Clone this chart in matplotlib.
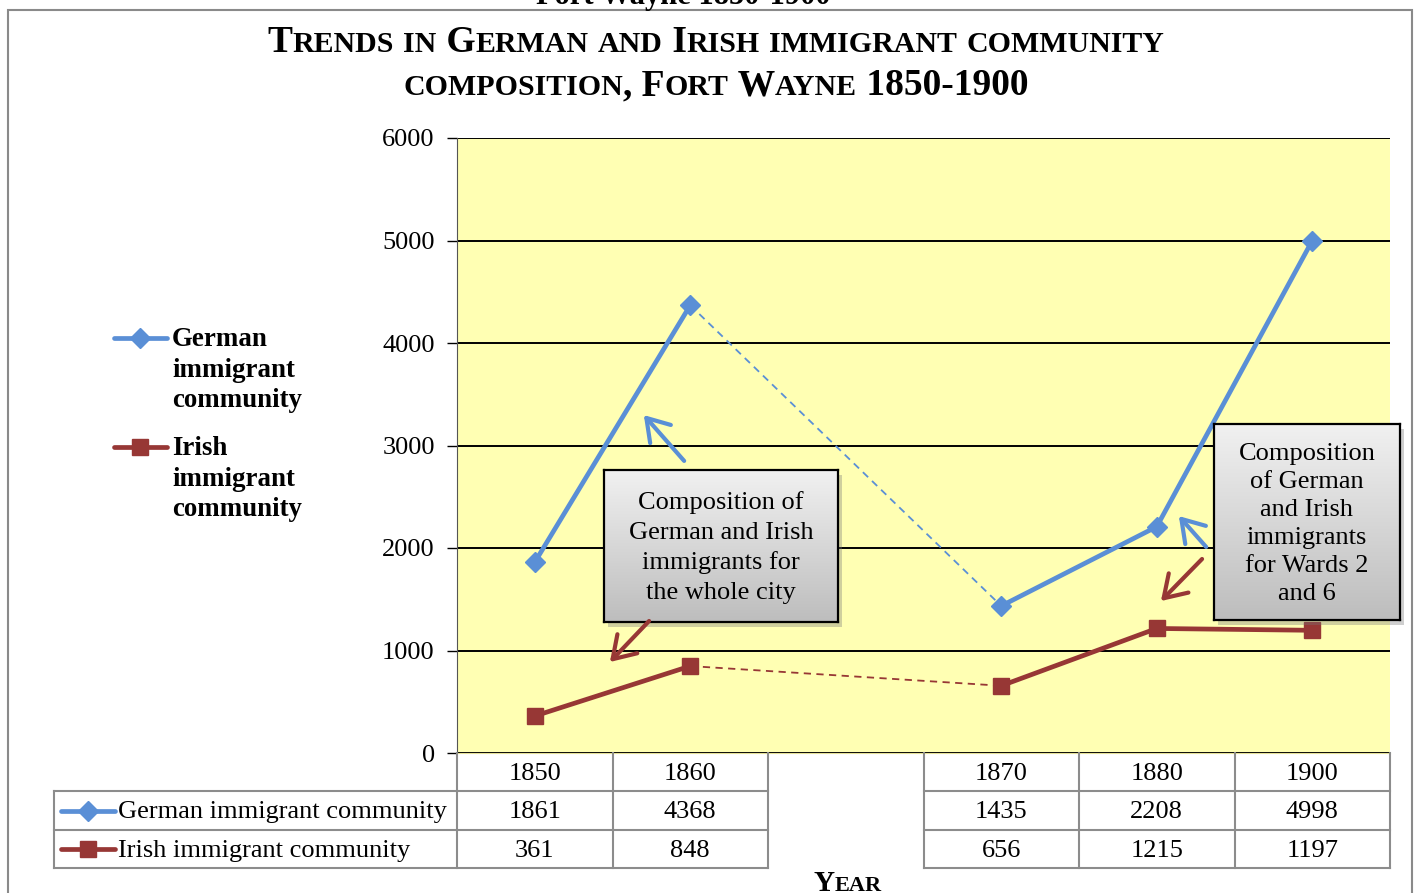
import numpy as np
import matplotlib
matplotlib.use('Agg')
import matplotlib.pyplot as plt
from matplotlib.patches import Rectangle, FancyArrowPatch
from matplotlib.lines import Line2D
from matplotlib.colors import LinearSegmentedColormap

W, H, DPI = 1419, 893, 100

# data
years = ['1850', '1860', '', '1870', '1880', '1900']
german = [1861, 4368, None, 1435, 2208, 4998]
irish = [361, 848, None, 656, 1215, 1197]
series_names = ['German immigrant community', 'Irish immigrant community']
legend_names = ['German\nimmigrant\ncommunity', 'Irish\nimmigrant\ncommunity']
y_ticks = [0, 1000, 2000, 3000, 4000, 5000, 6000]

BLUE = '#5A8FD6'
RED = '#973735'
SERIF = 'Liberation Serif'
FS = 19

fig = plt.figure(figsize=(W / DPI, H / DPI), dpi=DPI)


def fx(x):
    return x / W


def fy(y):
    return 1 - y / H


def pix(x, y):
    # top-left pixel origin -> figure pixels
    return (x, H - y)


# outer chart frame
fig.add_artist(Rectangle((fx(8), fy(920)), fx(1404), (920 - 10) / H,
                         transform=fig.transFigure, fill=False,
                         ec='#8A8A8A', lw=1.5, zorder=0))


def small_caps(xc, ybase, text, big, small, weight='bold'):
    r = fig.canvas.get_renderer()
    runs = []
    for ch in text:
        size = small if ch.islower() else big
        if runs and runs[-1][1] == size:
            runs[-1][0] += ch.upper()
        else:
            runs.append([ch.upper(), size])
    widths = []
    for s, size in runs:
        t1 = fig.text(0, 0, s + '|', fontsize=size, family=SERIF, weight=weight)
        t2 = fig.text(0, 0, '|', fontsize=size, family=SERIF, weight=weight)
        widths.append(t1.get_window_extent(r).width - t2.get_window_extent(r).width)
        t1.remove()
        t2.remove()
    x = xc - sum(widths) / 2
    for (s, size), w in zip(runs, widths):
        fig.text(fx(x), fy(ybase), s, fontsize=size, family=SERIF,
                 weight=weight, ha='left', va='baseline')
        x += w


# text of the page behind the chart, cut off at the top
fig.text(fx(683), fy(4), 'Fort Wayne 1850-1900', fontsize=22, family=SERIF,
         weight='bold', ha='center', va='baseline')

small_caps(716, 52, 'Trends in German and Irish immigrant community', 27, 21.5)
small_caps(716, 95, 'composition, Fort Wayne 1850-1900', 27, 21.5)
small_caps(848, 891, 'Year', 21, 16)

# plot area
L, R, T, B = 457, 1390, 138, 753
ax = fig.add_axes([fx(L), fy(B), fx(R - L), (B - T) / H])
ax.set_facecolor('#FFFFB3')
ax.set_xlim(0, len(years))
ax.set_ylim(0, 6000)
ax.set_yticks(y_ticks)
ax.set_yticklabels([str(v) for v in y_ticks], fontsize=FS, family=SERIF)
ax.tick_params(axis='y', length=7, width=1, pad=9)
ax.set_xticks([])
ax.yaxis.grid(True, color='black', lw=1.4)
ax.set_axisbelow(True)
for side in ['top', 'right']:
    ax.spines[side].set_visible(False)
ax.spines['left'].set_color('#555555')
ax.spines['bottom'].set_color('#E6E29A')


def draw_series(vals, color, marker, ms):
    runs, cur = [], []
    for i, v in enumerate(vals):
        if v is None:
            if cur:
                runs.append(cur)
            cur = []
        else:
            cur.append((i + 0.5, v))
    if cur:
        runs.append(cur)
    # thin dashed link across the empty slot
    for a, b in zip(runs[:-1], runs[1:]):
        ax.plot([a[-1][0], b[0][0]], [a[-1][1], b[0][1]], color=color,
                lw=1.3, ls=(0, (4, 3)), zorder=3)
    for run in runs:
        xs, ys = zip(*run)
        ax.plot(xs, ys, color=color, lw=3.4, marker=marker, ms=ms,
                solid_capstyle='round', zorder=4)


draw_series(german, BLUE, 'D', 10.5)
draw_series(irish, RED, 's', 12)

# legend on the left
for y0, name, color, marker, ms in [(338, legend_names[0], BLUE, 'D', 10.5),
                                    (447, legend_names[1], RED, 's', 12)]:
    fig.add_artist(Line2D([fx(114), fx(167)], [fy(y0), fy(y0)], color=color,
                          lw=3.4, solid_capstyle='round'))
    fig.add_artist(Line2D([fx(140)], [fy(y0)], color=color, marker=marker,
                          ms=ms, lw=0))
    fig.text(fx(172), fy(y0 - 11), name, fontsize=19.4, family=SERIF,
             weight='bold', ha='left', va='top', linespacing=1.3)

# data table under the plot
cw = (R - L) / len(years)
left_x = -(L - 54) / cw
tab = fig.add_axes([fx(54), fy(868), fx(R - 54), (868 - B) / H])
tab.set_xlim(left_x, len(years))
tab.set_ylim(3, 0)
tab.axis('off')
GRID = '#8C8C8C'
gap = [i for i, y in enumerate(years) if y == '']
for i in range(len(years) + 1):
    tab.plot([i, i], [0, 3], color=GRID, lw=1.5, clip_on=False)
tab.plot([left_x, left_x], [1, 3], color=GRID, lw=1.5, clip_on=False)
edges = [left_x] + [g for i in gap for g in (i, i + 1)] + [len(years)]
for r in [1, 2, 3]:
    for a, b in zip(edges[0::2], edges[1::2]):
        tab.plot([a, b], [r, r], color=GRID, lw=1.5, clip_on=False)

for i, yr in enumerate(years):
    tab.text(i + 0.5, 0.55, yr, fontsize=FS, family=SERIF, ha='center', va='center')
for r, vals in [(1, german), (2, irish)]:
    for i, v in enumerate(vals):
        if v is not None:
            tab.text(i + 0.5, r + 0.55, str(v), fontsize=FS, family=SERIF,
                     ha='center', va='center')

for r, name, color, marker, ms in [(1, series_names[0], BLUE, 'D', 10.5),
                                   (2, series_names[1], RED, 's', 12)]:
    x0 = (61 - L) / cw
    x1 = (115 - L) / cw
    tab.plot([x0, x1], [r + 0.5, r + 0.5], color=color, lw=3.4,
             solid_capstyle='round', clip_on=False)
    tab.plot([(x0 + x1) / 2], [r + 0.5], color=color, marker=marker, ms=ms,
             lw=0, clip_on=False)
    tab.text((118 - L) / cw, r + 0.55, name, fontsize=FS, family=SERIF,
             ha='left', va='center')


# callout boxes with grey gradient
def callout(x0, y0, x1, y1, text, spacing):
    shadow = Rectangle((fx(x0 + 4), fy(y1 + 5)), fx(x1 - x0), (y1 - y0) / H,
                       transform=fig.transFigure, color='#777777', alpha=0.35,
                       lw=0, zorder=4)
    fig.add_artist(shadow)
    bx = fig.add_axes([fx(x0), fy(y1), fx(x1 - x0), (y1 - y0) / H], zorder=5)
    grad = np.linspace(0, 1, 256).reshape(-1, 1)
    bx.imshow(grad, cmap=LinearSegmentedColormap.from_list(
        'g', ['#F1F1F1', '#BDBDBD']), aspect='auto', extent=[0, 1, 0, 1])
    bx.set_xticks([])
    bx.set_yticks([])
    for s in bx.spines.values():
        s.set_color('black')
        s.set_linewidth(1.6)
    bx.text(0.5, 0.49, text, fontsize=FS, family=SERIF, ha='center',
            va='center', linespacing=spacing, transform=bx.transAxes)


callout(604, 470, 838, 622,
        'Composition of\nGerman and Irish\nimmigrants for\nthe whole city', 1.43)
callout(1214, 424, 1400, 620,
        'Composition\nof German\nand Irish\nimmigrants\nfor Wards 2\nand 6', 1.36)

arrows = [((686, 463), (642, 413), BLUE),
          ((651, 619), (608, 664), RED),
          ((1208, 549), (1177, 514), BLUE),
          ((1204, 557), (1159, 603), RED)]
for start, end, color in arrows:
    fig.add_artist(FancyArrowPatch(
        pix(*start), pix(*end), transform=None,
        arrowstyle='->,head_length=0.7,head_width=0.45', mutation_scale=22,
        color=color, lw=3, zorder=6))

fig.savefig('out.png', dpi=DPI)
